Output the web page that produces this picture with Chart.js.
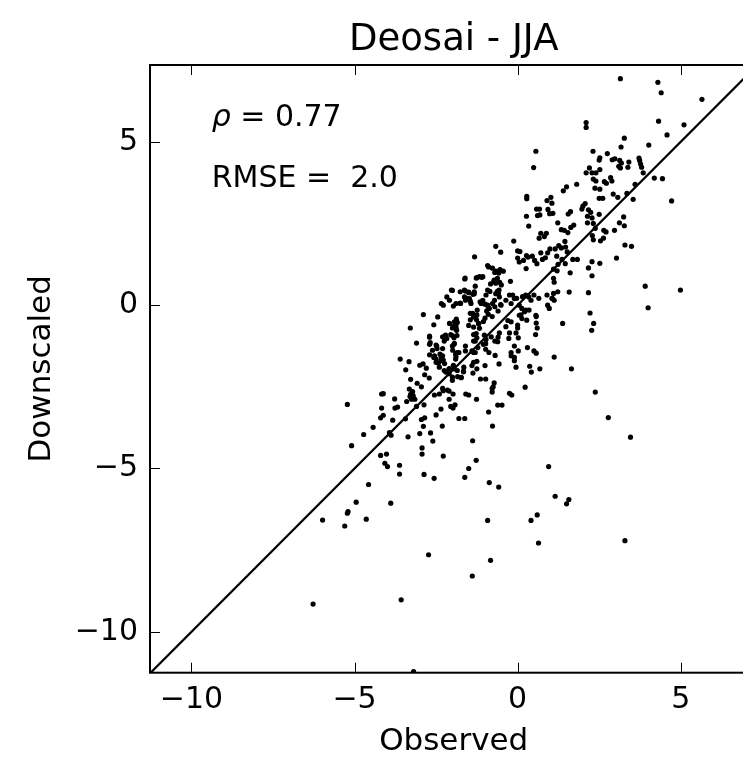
<!DOCTYPE html>
<html>
<head>
<meta charset="utf-8">
<script src="https://cdn.jsdelivr.net/npm/chart.js@4/dist/chart.umd.min.js"></script>
<style>
  body { margin: 0; background: #fff; }
  #wrap { width: 743px; height: 758px; overflow: hidden; }
</style>
</head>
<body>
<div id="wrap"><canvas id="myChart" width="760" height="758" style="width:760px;height:758px"></canvas></div>
<script>
// observed / downscaled pairs (same order in both arrays)
var observed = [
  3.15, 4.30, 4.40, 5.65, 2.10, 2.10, 4.32, 5.10, 4.58, 0.56,
  0.49, 3.27, 3.17, 4.02, 2.31, 2.75, 2.52, 2.50, 2.90, 2.98,
  3.13, 3.18, 3.10, 3.15, 3.41, 3.38, 3.72, 3.74, 3.77, 3.80,
  3.85, 3.60, 4.19, 4.44, 4.72, 2.20, 2.28, 2.40, 2.10, 2.52,
  2.32, 2.40, 2.85, 2.89, 2.66, 2.72, 1.81, 1.50, 1.40, 2.37,
  2.52, 2.93, 3.07, 3.35, 3.54, 2.50, 2.61, 1.02, 1.05, 0.90,
  0.28, 0.28, 0.58, 0.67, 0.93, 0.98, 0.61, 0.68, 1.08, 0.27,
  0.34, 1.23, 1.55, 1.62, 2.00, 2.07, 2.17, 2.24, 2.28, 2.14,
  1.97, 2.50, 2.32, 2.14, 2.38, 1.72, 1.63, 1.43, 1.34, 1.54,
  0.88, 0.82, 0.71, 0.66, 2.64, 2.71, 2.29, 2.32, 2.54, 2.63,
  2.97, 3.12, 3.25, 3.27, 3.29, 3.49, 3.03, 3.91, 4.99, -0.12,
  -0.67, -0.52, -1.32, 0.00, 0.07, 0.27, 0.32, 0.45, 0.52, 0.59,
  0.00, 0.05, 0.18, 0.26, 0.71, 0.76, 0.85, 0.92, 0.99, 1.15,
  1.26, 1.34, 1.47, 1.52, 1.45, 1.20, 1.36, 1.24, 1.69, 1.83,
  1.46, 2.28, 2.52, 2.17, 2.28, 1.61, 1.10, 1.21, 1.10, 1.12,
  1.58, 2.17, -0.67, -0.54, -0.44, -1.61, -1.27, -1.17, -1.07, -0.89,
  -0.22, -0.72, -0.67, -0.62, -2.03, -1.63, -1.50, -1.33, -0.92, -0.57,
  -0.67, -0.15, 0.15, -0.03, 0.25, 0.50, 0.65, 0.90, 1.10, 1.05,
  4.00, 2.22, 2.33, 2.27, 1.38, 1.12, 1.65, 2.38, 2.78, 3.46,
  0.95, 0.23, -0.18, 0.37, 0.42, 0.68, 0.30, 0.57, 0.50, -0.20,
  -0.10, -0.05, 0.02, 0.57, 0.57, 0.60, 0.55, 0.00, -0.05, 0.02,
  -0.30, 0.35, 0.10, -0.57, -0.69, -1.00, -0.98, -1.14, -0.75, -0.78,
  -0.61, -0.48, -0.89, -0.77, -1.38, -1.26, -1.59, -1.37, -1.66, -1.80,
  -1.62, -2.28, -1.27, -1.50, -1.62, -0.87, -0.58, -2.31, -2.35, -2.10,
  -1.98, -1.92, -2.05, -2.10, -1.98, -2.00, -2.00, -1.73, -2.40, -2.25,
  -2.11, -2.30, -2.38, -2.28, -1.85, -1.60, -2.00, -1.95, -2.05, -1.35,
  -1.25, -1.35, -1.30, -1.35, -1.25,
  -2.89, -2.45, -2.57, -3.29, -2.70, -2.48, -2.70, -2.61, -2.55, -2.50,
  -2.43, -3.10, -3.60, -3.33, -3.43, -3.00, -2.90, -2.80, -2.85, -2.71,
  -2.95, -3.08, -3.28, -3.32, -3.28, -3.30, -3.40, -2.55, -4.17, -4.12,
  -3.77, -4.17, -4.12, -4.20, -3.76, -3.68, -3.83, -3.44, -3.10, -2.95,
  -2.85, -2.87, -2.89, -3.00, -2.67, -2.60, -2.50, -3.36, -3.93, -3.88,
  -5.22, -4.43, -4.72, -5.09, -4.20, -4.02, -4.07, -3.99, -3.62, -3.62,
  -2.93, -2.93, -2.87, -2.56, -4.57,
  -4.95, -5.20, -5.22, -5.98, -5.30, -4.64, -3.89, -2.73, -3.57, -6.27,
  -3.19, 1.15, 1.57, 1.50, 0.60, 0.41, -0.92, 0.64, 3.29, -0.83,
  -1.39,
  -0.92, -0.77, -0.70, -0.58, -0.55, -0.73, -0.83, -0.55, -0.50, -0.62,
  -0.85, -1.25, -1.10, -1.62, -1.30, -1.60, -1.50, -1.37, -1.55, -1.45,
  -2.00, -1.15, -1.00, -0.90, -0.95, -0.90, -1.25, -1.00, -1.05, -0.78,
  -0.70, -0.52, -0.60, -1.76, -1.45, -1.35, -1.45, -1.50, -1.35, -1.26,
  -1.20, -1.88, -1.85, -1.92, -1.88, -2.00, -1.86, -2.00, -2.70, -2.68,
  -2.50, -2.47, -2.30, -2.25, -2.35, -2.33, -2.50, -2.70, -2.57, -1.95,
  -1.90, -1.80, -1.90, -1.60, -1.35, -1.40, -1.30, -1.22, -1.05, -0.98,
  -0.88, -0.98, -0.70, -0.60, -0.25, -0.27, -0.10, -0.20, -0.10, -3.22,
  -3.20, -3.15, -3.25, -2.15, -1.50, -2.30, -2.28, -2.40, -0.78, -0.72,
  -0.25, -2.20, -2.10, -1.95, -1.85, -1.65, -1.40, -1.25,
  -2.34, -2.28, -2.17, -2.09, -1.97, -1.89, -1.75, -1.76, -1.63, -1.60,
  -1.48, -1.43, -1.33, -1.38, -1.30, -1.24, -1.12, -1.07, -0.97, -0.92,
  -0.87, -0.77, -0.71, -0.59, -0.56, -0.51, -0.36, -0.25, -0.20, -0.10,
  0.05, 0.13, 0.21, 0.34, 0.41, 0.56, 0.92, 0.97, 1.07, 1.12,
  1.23, -1.27, -1.17, -1.19, -1.02, -0.97, -0.81, -0.61, -0.56, -0.36,
  -0.20, 0.00, 0.05, 0.26, 0.28, 0.13, -2.09, -1.94, -1.89, -1.87,
  -1.97, -2.21, -2.17, -1.94, -1.99, -1.89, -2.30, -2.35, -2.24, -2.09,
  -1.97, -1.84, -1.66, -1.73
];
var downscaled = [
  6.93, 6.82, 6.50, 6.30, 5.59, 5.44, 5.63, 5.52, 5.21, 4.71,
  4.21, 5.11, 4.84, 4.90, 4.71, 4.64, 4.51, 4.44, 4.45, 4.48,
  4.43, 4.35, 4.25, 4.20, 4.38, 4.22, 4.50, 4.43, 4.32, 4.22,
  4.05, 3.70, 3.89, 3.87, 3.19, 4.20, 4.05, 4.05, 4.05, 4.15,
  3.86, 3.80, 3.90, 3.80, 3.78, 3.73, 3.70, 3.62, 3.50, 3.58,
  3.55, 3.40, 3.30, 3.42, 3.24, 3.27, 3.27, 3.30, 3.12, 3.20,
  3.33, 3.26, 2.94, 2.94, 2.93, 2.80, 2.74, 2.76, 2.81, 2.72,
  2.42, 2.52, 2.79, 2.86, 3.03, 3.11, 2.92, 2.84, 2.67, 2.72,
  2.94, 2.78, 2.50, 2.52, 2.35, 2.45, 2.38, 2.29, 2.31, 2.22,
  2.20, 2.10, 2.20, 2.05, 2.29, 2.24, 2.13, 2.00, 1.97, 2.05,
  2.29, 2.52, 2.70, 2.43, 1.84, 1.80, 1.44, 0.58, 0.46, 1.96,
  1.80, 1.62, 1.48, 1.66, 1.64, 1.52, 1.47, 1.50, 1.37, 1.27,
  1.44, 1.32, 1.37, 1.12, 1.60, 1.40, 1.45, 1.60, 1.72, 1.72,
  1.82, 1.75, 1.78, 1.63, 1.95, 1.50, 1.40, 1.25, 1.40, 1.40,
  1.27, 1.33, 1.28, 1.14, 0.90, 0.99, 1.10, 1.05, 0.82, 0.70,
  0.40, 0.38, 1.04, 1.09, 1.04, 0.83, 0.83, 0.87, 0.87, 1.17,
  0.73, 0.77, 0.67, 0.82, 0.46, 0.46, 0.40, 0.35, 0.46, 0.46,
  0.35, 0.31, 0.26, 0.21, 0.31, 0.31, 0.21, 0.31, 0.36, 0.21,
  -0.08, -0.24, -0.56, -0.77, -0.56, -1.59, -1.95, -2.66, -3.44, -4.04,
  -4.94, -2.51, -2.75, -1.87, -2.05, -1.95, -1.30, -1.47, -1.40, -1.45,
  -1.60, -1.90, -1.40, -0.35, -0.55, -0.70, -0.90, -0.70, -0.85, -1.00,
  -0.47, -0.15, -0.30, -1.80, -1.54, -1.85, -2.26, -2.26, -2.50, -2.66,
  -3.06, -3.06, -3.27, -3.70, -4.15, -2.88, -2.72, -2.08, -2.02, -3.47,
  -3.47, -4.62, -4.75, -5.00, -5.27, -5.43, -5.57, -3.70, -3.18, -2.88,
  -3.15, -3.05, -3.10, -2.63, -2.72, -2.30, -2.20, -2.22, -1.90, -2.00,
  -1.96, -1.55, -1.50, -1.68, -1.45, -1.40, -1.25, -1.00, -0.90, -1.75,
  -1.72, -1.45, -1.10, -0.90, -1.00,
  -0.29, -0.36, -0.60, -0.70, -0.98, -1.25, -1.20, -1.38, -1.55, -1.65,
  -1.78, -1.16, -1.65, -1.73, -1.98, -1.84, -1.80, -1.93, -2.13, -2.23,
  -2.50, -2.39, -2.27, -2.57, -2.73, -2.80, -2.95, -2.75, -2.72, -2.71,
  -2.87, -3.15, -3.37, -3.45, -3.15, -3.12, -3.52, -3.48, -3.10, -3.50,
  -3.45, -3.05, -3.71, -3.93, -3.91, -4.16, -3.36, -4.03, -3.90, -3.98,
  -3.04, -3.74, -3.96, -4.30, -4.60, -4.56, -4.84, -4.94, -4.90, -5.17,
  -4.37, -4.56, -5.18, -5.30, -5.49,
  -6.03, -6.32, -6.37, -6.58, -6.76, -6.55, -6.06, -7.64, -9.02, -9.15,
  -11.22, -5.85, -5.95, -6.08, -6.42, -6.59, -6.59, -7.28, -7.21, -7.81,
  -8.29,
  1.21, 1.13, 1.00, 0.98, 1.06, 0.72, 0.65, 0.70, 0.62, 0.42,
  0.42, 0.84, 0.85, 0.80, 0.58, 0.43, 0.38, 0.33, 0.20, 0.12,
  0.45, 0.10, 0.03, -0.08, -0.18, -0.28, -0.30, -0.40, -0.50, -0.35,
  -0.05, 0.02, -0.18, 0.06, -0.25, -0.36, -0.45, -0.62, -0.67, -0.45,
  -0.57, -0.43, -0.53, -0.65, -0.75, -0.70, -0.93, -0.93, -0.95, -1.15,
  -1.22, -1.33, -0.97, -1.10, -1.55, -1.70, -1.75, -1.52, -1.60, -1.20,
  -1.50, -1.45, -1.65, -1.25, -1.10, -1.40, -1.45, -1.30, -1.20, -1.35,
  -1.45, -1.18, -1.10, -0.98, -0.85, -1.02, -1.25, -1.55, -1.70, -2.65,
  -2.78, -2.88, -2.88, -2.60, -2.75, -2.55, -2.62, -2.72, -2.55, -2.38,
  -2.70, -2.05, -2.10, -1.95, -2.00, -1.90, -1.85, -1.95,
  0.05, 0.00, 0.25, 0.15, -0.03, 0.05, 0.05, 0.41, 0.25, 0.15,
  0.20, 0.05, 0.41, -0.25, -0.36, -0.15, 0.05, 0.15, 0.31, 0.00,
  -0.10, 0.05, 0.15, 0.36, 0.25, 0.00, 0.15, 0.31, 0.05, 0.20,
  0.00, -0.10, -0.20, 0.25, 0.15, -0.31, 0.00, -0.10, 0.20, 0.15,
  0.41, -0.87, -0.71, -0.56, -0.92, -1.05, -0.97, -1.12, -0.85, -0.66,
  -0.51, -0.61, -0.31, -0.15, -0.46, -0.41, -0.56, -0.51, -0.66, -0.77,
  -0.66, -0.92, -1.02, -1.17, -1.38, -1.58, -1.33, -1.68, -1.79, -1.94,
  -1.84, -2.19, -2.04, -2.21
];

var xRange = [-11.27, 7.35];
var yRange = [-11.25, 7.35];
var tickValues = [-10, -5, 0, 5];
var oneToOne = [-11.27, 7.35];
var rhoText = '0.77';
var rmseText = '2.0';
var statsAt = { x: -9.38, rhoY: 5.48, rmseY: 3.61 };

var points = observed.map(function(v, i) { return { x: v, y: downscaled[i] }; });
var fmt = function(v) { return v < 0 ? '\u2212' + Math.abs(v) : '' + v; };

Chart.defaults.font.family = '"DejaVu Sans", sans-serif';
Chart.defaults.color = '#000';

// matplotlib-like frame: inward ticks on all sides + text box
var framePlugin = {
    id: 'frame',
    afterDatasetsDraw: function(chart) {
        var ctx = chart.ctx, a = chart.chartArea;
        var xs = chart.scales.x, ys = chart.scales.y;
        ctx.save();
        ctx.strokeStyle = '#000';
        ctx.lineWidth = 1;
        ctx.beginPath();
        tickValues.forEach(function(v) {
            var px = Math.round(xs.getPixelForValue(v)) + 0.5;
            ctx.moveTo(px, a.bottom); ctx.lineTo(px, a.bottom - 10);
            ctx.moveTo(px, a.top); ctx.lineTo(px, a.top + 10);
            var py = Math.round(ys.getPixelForValue(v)) + 0.5;
            ctx.moveTo(a.left, py); ctx.lineTo(a.left + 10, py);
            ctx.moveTo(a.right, py); ctx.lineTo(a.right - 10, py);
        });
        ctx.stroke();
        ctx.lineWidth = 2;
        ctx.strokeRect(a.left, a.top, a.right - a.left, a.bottom - a.top);

        var tx = xs.getPixelForValue(statsAt.x);
        ctx.fillStyle = '#000';
        ctx.textBaseline = 'alphabetic';
        ctx.font = 'italic 30px "DejaVu Sans"';
        var ry = ys.getPixelForValue(statsAt.rhoY);
        ctx.fillText('\u03c1', tx, ry);
        var w = ctx.measureText('\u03c1').width;
        ctx.font = '30px "DejaVu Sans"';
        ctx.fillText(' = ' + rhoText, tx + w, ry);
        ctx.fillText('RMSE =  ' + rmseText, tx, ys.getPixelForValue(statsAt.rmseY));
        ctx.restore();
    }
};

var config = {
    type: 'scatter',
    data: {
        datasets: [{
            type: 'line',
            data: oneToOne.map(function(v) { return { x: v, y: v }; }),
            borderColor: '#000',
            borderWidth: 2.2,
            pointRadius: 0,
            fill: false
        }, {
            data: points,
            backgroundColor: '#000',
            pointRadius: 2.6,
            pointBorderWidth: 0,
            pointHoverRadius: 2.6
        }]
    },
    options: {
        responsive: false,
        animation: false,
        layout: { padding: { left: 0, right: 2, top: 0, bottom: 0 } },
        plugins: {
            legend: { display: false },
            tooltip: { enabled: false },
            title: {
                display: true,
                text: 'Deosai - JJA',
                fullSize: false,
                color: '#000',
                font: { size: 37, weight: 'normal' },
                padding: { top: 18.6, bottom: 2 }
            }
        },
        scales: {
            x: {
                type: 'linear',
                position: 'bottom',
                min: xRange[0],
                max: xRange[1],
                grid: { display: false, drawTicks: false },
                border: { display: false },
                ticks: {
                    stepSize: 5, includeBounds: false, padding: 10,
                    font: { size: 30 }, color: '#000',
                    maxRotation: 0, callback: fmt
                },
                title: {
                    display: true, text: 'Observed', color: '#000',
                    font: { size: 31 }, padding: { top: 0, bottom: -3 }
                },
                afterFit: function(s) { s.height = 85.3; }
            },
            y: {
                type: 'linear',
                min: yRange[0],
                max: yRange[1],
                grid: { display: false, drawTicks: false },
                border: { display: false },
                ticks: {
                    stepSize: 5, includeBounds: false, padding: 12,
                    font: { size: 30 }, color: '#000', callback: fmt
                },
                title: {
                    display: true, text: 'Downscaled', color: '#000',
                    font: { size: 31 }, padding: { top: 23, bottom: 0 }
                },
                afterFit: function(s) { s.width = 150; }
            }
        }
    },
    plugins: [framePlugin]
};

window.onload = function() {
    var ctx = document.getElementById('myChart').getContext('2d');
    window.myScatter = new Chart(ctx, config);
};
</script>
</body>
</html>
